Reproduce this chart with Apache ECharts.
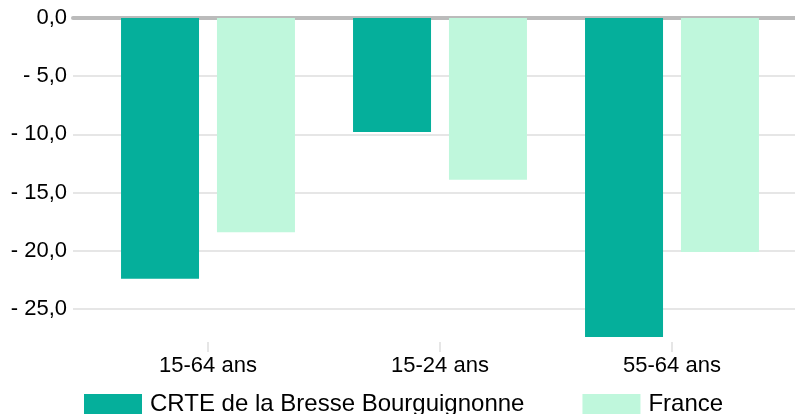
<!DOCTYPE html>
<html>
<head>
<meta charset="utf-8">
<script src="https://cdn.jsdelivr.net/npm/echarts@6/dist/echarts.min.js"></script>
<style>
html,body{margin:0;padding:0;background:#fff;}
#chart{width:795px;height:414px;}
</style>
</head>
<body>
<div id="chart"></div>
<script>
const categories = ['15-64 ans', '15-24 ans', '55-64 ans'];
const seriesNames = ['CRTE de la Bresse Bourguignonne', 'France'];
const crteValues = [-22.4, -9.8, -27.4];
const franceValues = [-18.4, -13.9, -20.1];
const yMin = -27.84;
const yMax = 0;

const FONT = "'Liberation Sans', Arial, Helvetica, sans-serif";
function fmt(v) {
  if (v === 0) return '0,0';
  return '- ' + Math.abs(v).toFixed(1).replace('.', ',');
}

const chart = echarts.init(document.getElementById('chart'), null, {renderer: 'canvas'});
chart.setOption({
  animation: false,
  backgroundColor: '#ffffff',
  textStyle: {fontFamily: FONT},
  legend: {
    left: 79,
    top: 387,
    itemWidth: 58,
    itemHeight: 20,
    itemGap: 58,
    icon: 'rect',
    data: seriesNames,
    textStyle: {fontSize: 24, color: '#000', fontFamily: FONT, lineHeight: 20, padding: [0, 0, 0, 3]}
  },
  grid: [
    {left: 73, right: 0, top: 18, bottom: 72},
    {left: 92, right: 7, top: 18, bottom: 72}
  ],
  xAxis: [
    {
      gridIndex: 0, type: 'category', data: categories, position: 'top',
      axisLine: {show: true, onZero: false, lineStyle: {color: '#bbbbbb', width: 4}},
      axisTick: {show: false}, axisLabel: {show: false}, splitLine: {show: false}
    },
    {
      gridIndex: 1, type: 'category', data: categories, position: 'bottom',
      axisLine: {show: false, onZero: false},
      axisTick: {show: true, alignWithLabel: true, length: 10, lineStyle: {color: '#e6e6e6', width: 2}},
      axisLabel: {fontSize: 22, color: '#000', margin: 13, fontFamily: FONT},
      splitLine: {show: false}
    }
  ],
  yAxis: [
    {
      gridIndex: 0, type: 'value', min: yMin, max: yMax,
      axisLine: {show: false}, axisTick: {show: false},
      axisLabel: {fontSize: 22, color: '#000', margin: 6, showMinLabel: false, formatter: fmt, fontFamily: FONT, padding: [6, 0, 0, 0]},
      splitLine: {show: true, showMinLine: false, showMaxLine: false, lineStyle: {color: '#e6e6e6', width: 2}}
    },
    {
      gridIndex: 1, type: 'value', min: yMin, max: yMax, show: false,
      splitLine: {show: false}
    }
  ],
  series: [
    {
      name: seriesNames[0], type: 'bar', xAxisIndex: 1, yAxisIndex: 1,
      data: crteValues, barWidth: 78, barGap: '23%',
      itemStyle: {color: '#05af9b'}
    },
    {
      name: seriesNames[1], type: 'bar', xAxisIndex: 1, yAxisIndex: 1,
      data: franceValues, barWidth: 78, barGap: '23%',
      itemStyle: {color: '#bff7dc'}
    }
  ]
});
</script>
</body>
</html>
